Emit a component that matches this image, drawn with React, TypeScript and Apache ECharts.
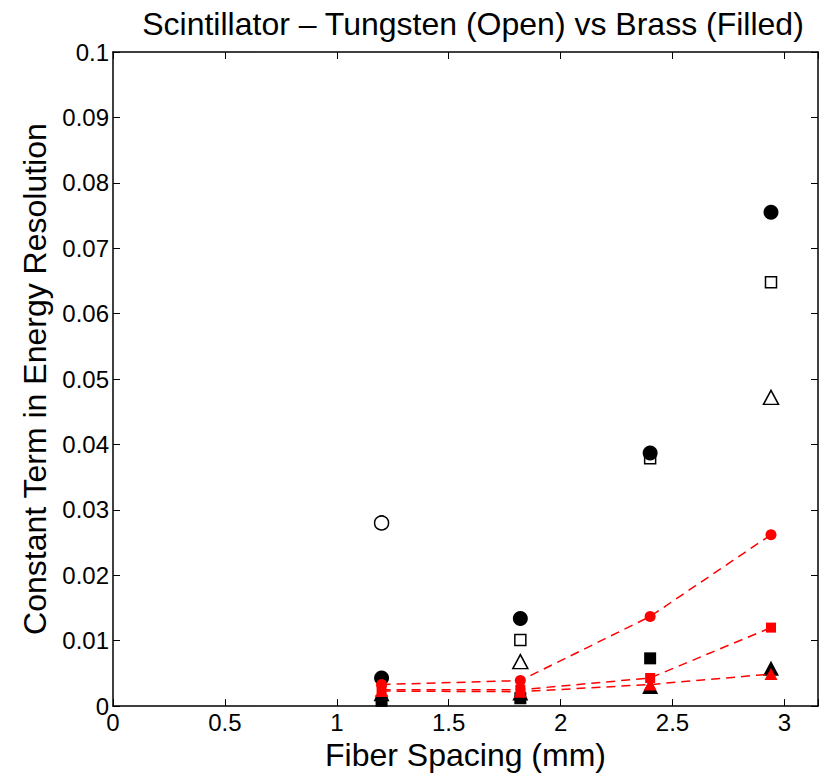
import React, { useEffect, useRef } from "react";
import * as echarts from "echarts";

const spacing = [1.2, 1.82, 2.4, 2.94];
const xTicks = [0, 0.5, 1, 1.5, 2, 2.5, 3];

// Tungsten (open markers)
const tungstenCircle = [0.028, null, null, null];
const tungstenSquare = [null, 0.0101, 0.0379, 0.0648];
const tungstenTriangle = [null, 0.0068, null, 0.0472];

// Brass (filled black markers)
const brassCircle = [0.0043, 0.0134, 0.0387, 0.0755];
const brassSquare = [0.0008, 0.0012, 0.0073, null];
const brassTriangle = [0.0019, 0.002, 0.003, 0.0058];

// Red filled markers with dashed lines
const redCircle = [0.0033, 0.0039, 0.0137, 0.0262];
const redSquare = [0.0025, 0.0025, 0.0043, 0.012];
const redTriangle = [0.0023, 0.0022, 0.0033, 0.0049];

const toPairs = (vals: (number | null)[]) =>
  spacing.map((x, i) => [x, vals[i]]).filter((p) => p[1] !== null);

const FONT = "Liberation Sans";

export default function App() {
  const ref = useRef<HTMLDivElement>(null);
  useEffect(() => {
    if (!ref.current) return;
    const chart = echarts.init(ref.current, undefined, { renderer: "svg" });

    const scatter = (
      name: string,
      vals: (number | null)[],
      symbol: string,
      size: number | number[],
      color: string,
      open: boolean,
      z: number
    ) => ({
      name,
      type: "scatter",
      data: toPairs(vals),
      symbol,
      symbolSize: size,
      z,
      itemStyle: open
        ? { color: "#ffffff", borderColor: "#000000", borderWidth: 1.5, opacity: 1 }
        : { color, borderWidth: 0, opacity: 1 },
    });

    const redLine = (name: string, vals: (number | null)[], symbol: string, size: number | number[]) => ({
      name,
      type: "line",
      data: toPairs(vals),
      symbol,
      symbolSize: size,
      showSymbol: true,
      z: 10,
      lineStyle: { color: "#ff0000", width: 1.5, type: [9, 6] },
      itemStyle: { color: "#ff0000", borderWidth: 0, opacity: 1 },
    });

    const axisCommon = {
      axisLine: { show: true, onZero: false, lineStyle: { color: "#000", width: 1.5 } },
      axisTick: { show: true, inside: true, length: 7, lineStyle: { color: "#000", width: 1 } },
      splitLine: { show: false },
    };

    chart.setOption({
      animation: false,
      backgroundColor: "#ffffff",
      title: {
        text: "Scintillator – Tungsten (Open) vs Brass (Filled)",
        left: 468,
        textAlign: "center",
        top: 3,
        textStyle: { fontFamily: FONT, fontSize: 32, fontWeight: "normal", color: "#000" },
      },
      grid: { left: 113, right: 11, top: 52, bottom: 67 },
      xAxis: [
        {
          type: "value",
          min: 0,
          max: 3.15,
          interval: 0.5,
          position: "bottom",
          name: "Fiber Spacing (mm)",
          nameLocation: "middle",
          nameGap: 25,
          nameTextStyle: { fontFamily: FONT, fontSize: 32, color: "#000" },
          axisLabel: {
            fontFamily: FONT,
            fontSize: 24,
            color: "#000",
            margin: 4,
            customValues: xTicks,
          },
          ...axisCommon,
        },
        {
          type: "value",
          min: 0,
          max: 3.15,
          interval: 0.5,
          position: "top",
          axisLabel: { show: false },
          ...axisCommon,
        },
      ],
      yAxis: [
        {
          type: "value",
          min: 0,
          max: 0.1,
          interval: 0.01,
          position: "left",
          name: "Constant Term in Energy Resolution",
          nameLocation: "middle",
          nameGap: 50,
          nameTextStyle: { fontFamily: FONT, fontSize: 32, color: "#000" },
          axisLabel: { fontFamily: FONT, fontSize: 24, color: "#000", margin: 4 },
          ...axisCommon,
        },
        {
          type: "value",
          min: 0,
          max: 0.1,
          interval: 0.01,
          position: "right",
          axisLabel: { show: false },
          ...axisCommon,
        },
      ],
      series: [
        scatter("Tungsten circle", tungstenCircle, "circle", 14, "#000", true, 2),
        scatter("Tungsten square", tungstenSquare, "rect", 11, "#000", true, 2),
        scatter("Tungsten triangle", tungstenTriangle, "triangle", [15, 14], "#000", true, 2),
        scatter("Brass circle", brassCircle, "circle", 15, "#000", false, 4),
        scatter("Brass square", brassSquare, "rect", 12, "#000", false, 4),
        scatter("Brass triangle", brassTriangle, "triangle", [16, 15], "#000", false, 4),
        redLine("Red circle", redCircle, "circle", 11),
        redLine("Red square", redSquare, "rect", 10),
        redLine("Red triangle", redTriangle, "triangle", [13, 12]),
      ],
    });
    return () => chart.dispose();
  }, []);
  return <div ref={ref} style={{ width: 829, height: 776, position: "absolute", left: 0, top: 0 }} />;
}
